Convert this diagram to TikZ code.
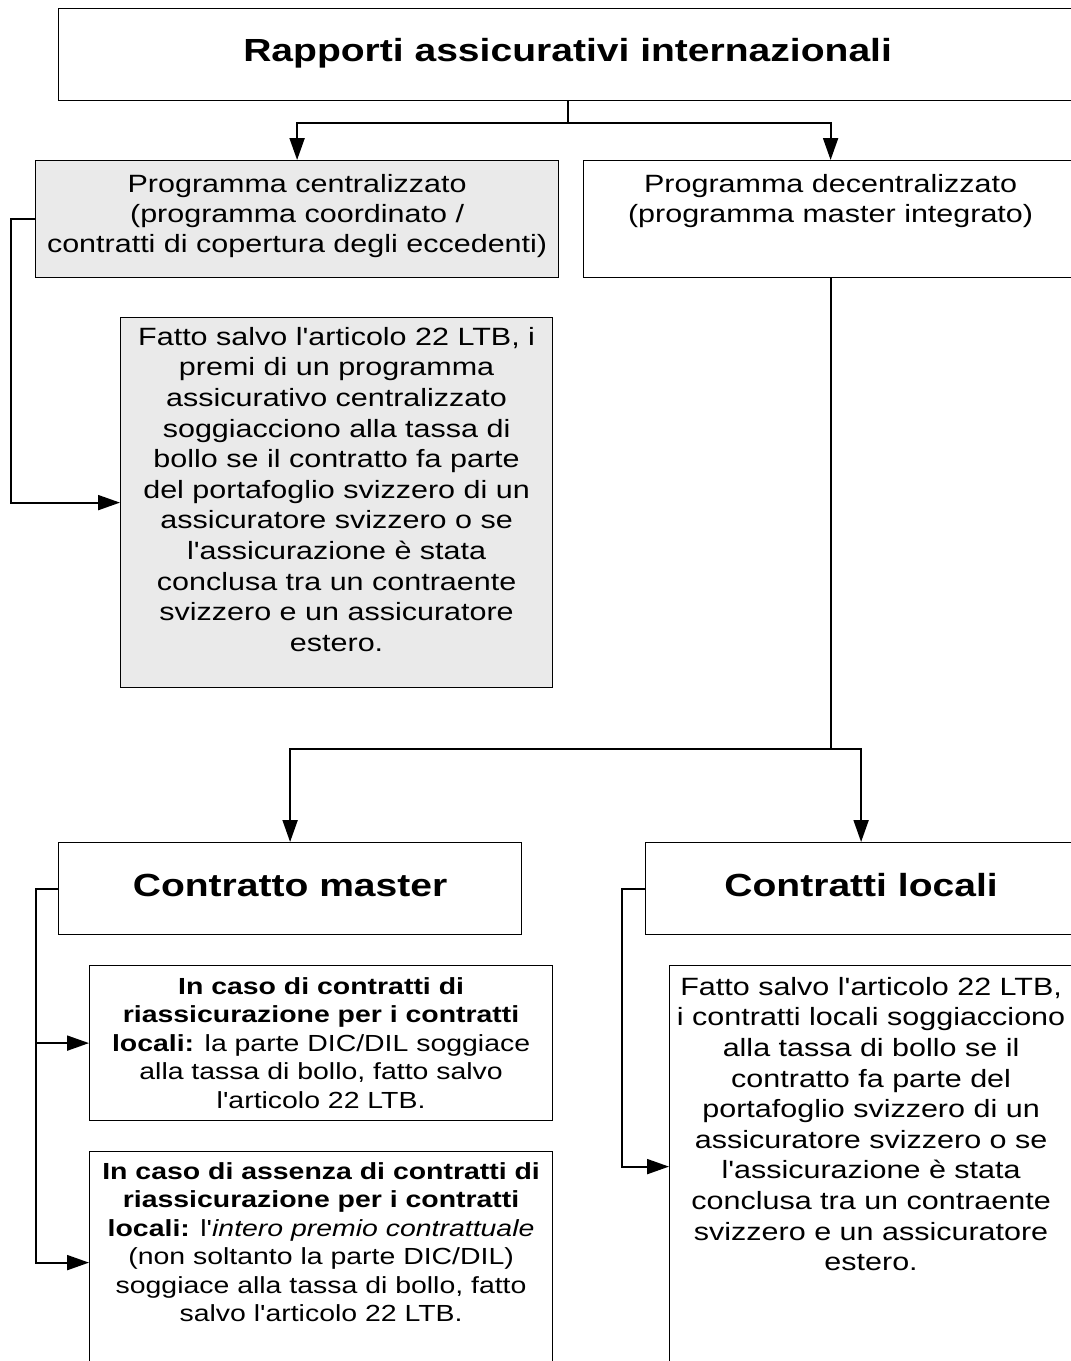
\documentclass[tikz,border=0pt]{standalone}
\usepackage{fontspec}
\setmainfont{Liberation Sans}[FakeStretch=1.22,Ligatures=TeXOff]
\usetikzlibrary{arrows.meta}
\definecolor{boxgray}{HTML}{EAEAEA}
\begin{document}
\begin{tikzpicture}[x=1pt,y=-1pt,
  box/.style={draw=black, line width=1.2pt, fill=white, inner sep=0pt, anchor=north west},
  graybox/.style={box, fill=boxgray},
  conn/.style={line width=2pt, black},
  arr/.style={conn, -{Triangle[length=22pt,width=15pt]}},
  title/.style={inner sep=0pt, anchor=base, font=\bfseries\fontsize{32}{38}\selectfont},
  body/.style={inner sep=0pt, anchor=north, align=center, font=\fontsize{25}{30.6}\selectfont},
  bodysm/.style={inner sep=0pt, anchor=north, align=center, font=\fontsize{23.3}{28.5}\selectfont}]
\useasboundingbox (0,0) rectangle (1071,1361);
\clip (0,0) rectangle (1071,1361);
\fill[white] (0,0) rectangle (1071,1361);

% boxes
\node[box, minimum width=1018pt, minimum height=92pt] (top) at (58,8) {};
\node[graybox, minimum width=523pt, minimum height=117pt] (cent) at (35,160) {};
\node[box, minimum width=494pt, minimum height=117pt] (dec) at (583,160) {};
\node[graybox, minimum width=432pt, minimum height=370pt] (gray) at (120,317) {};
\node[box, minimum width=463pt, minimum height=92pt] (master) at (58,842) {};
\node[box, minimum width=431pt, minimum height=92pt] (loc) at (645,842) {};
\node[box, minimum width=463pt, minimum height=155pt] (b1) at (89,965) {};
\node[box, minimum width=463pt, minimum height=222pt] (b2) at (89,1151) {};
\node[box, minimum width=403pt, minimum height=402pt] (lt) at (669,965) {};

% texts
\node[title] (top-t) at ([yshift=-53.5pt]top.north) {Rapporti assicurativi internazionali};
\node[body, font=\fontsize{25}{30}\selectfont] (cent-t) at ([yshift=-13.8pt]cent.north)
  {Programma centralizzato\\(programma coordinato /\\contratti di copertura degli eccedenti)};
\node[body, font=\fontsize{25}{30}\selectfont] (dec-t) at ([yshift=-13.8pt]dec.north)
  {Programma decentralizzato\\(programma master integrato)};
\node[body] (gray-t) at ([yshift=-10pt]gray.north)
  {Fatto salvo l'articolo 22 LTB, i\\premi di un programma\\assicurativo centralizzato\\soggiacciono alla tassa di\\bollo se il contratto fa parte\\del portafoglio svizzero di un\\assicuratore svizzero o se\\l'assicurazione è stata\\conclusa tra un contraente\\svizzero e un assicuratore\\estero.};
\node[title] (master-t) at ([yshift=-54.5pt]master.north) {Contratto master};
\node[title] (loc-t) at ([yshift=-54.5pt]loc.north) {Contratti locali};
\node[bodysm] (b1-t) at ([yshift=-12pt]b1.north)
  {\textbf{In caso di contratti di}\\\textbf{riassicurazione per i contratti}\\\textbf{locali:} la parte DIC/DIL soggiace\\alla tassa di bollo, fatto salvo\\l'articolo 22 LTB.};
\node[bodysm] (b2-t) at ([yshift=-11pt]b2.north)
  {\textbf{In caso di assenza di contratti di}\\\textbf{riassicurazione per i contratti}\\\textbf{locali:} l'\textit{intero premio contrattuale}\\(non soltanto la parte DIC/DIL)\\soggiace alla tassa di bollo, fatto\\salvo l'articolo 22 LTB.};
\node[body] (lt-t) at ([yshift=-12pt]lt.north)
  {Fatto salvo l'articolo 22 LTB,\\i contratti locali soggiacciono\\alla tassa di bollo se il\\contratto fa parte del\\portafoglio svizzero di un\\assicuratore svizzero o se\\l'assicurazione è stata\\conclusa tra un contraente\\svizzero e un assicuratore\\estero.};

% connectors
\draw[arr] (top.south) -- ++(0,22) -| (cent.north);
\draw[arr] (top.south) -- ++(0,22) -| (dec.north);
\draw[arr] (cent.west) -- ++(-24,0) |- (gray.west);
\draw[arr] (dec.south) -- ++(0,471) -| (master.north);
\draw[arr] (dec.south) -- ++(0,471) -| (loc.north);
\draw[arr] (master.west) -- ++(-22,0) |- (b1.west);
\draw[arr] (master.west) -- ++(-22,0) |- (b2.west);
\draw[arr] (loc.west) -- ++(-23,0) |- (lt.west);
\end{tikzpicture}
\end{document}
